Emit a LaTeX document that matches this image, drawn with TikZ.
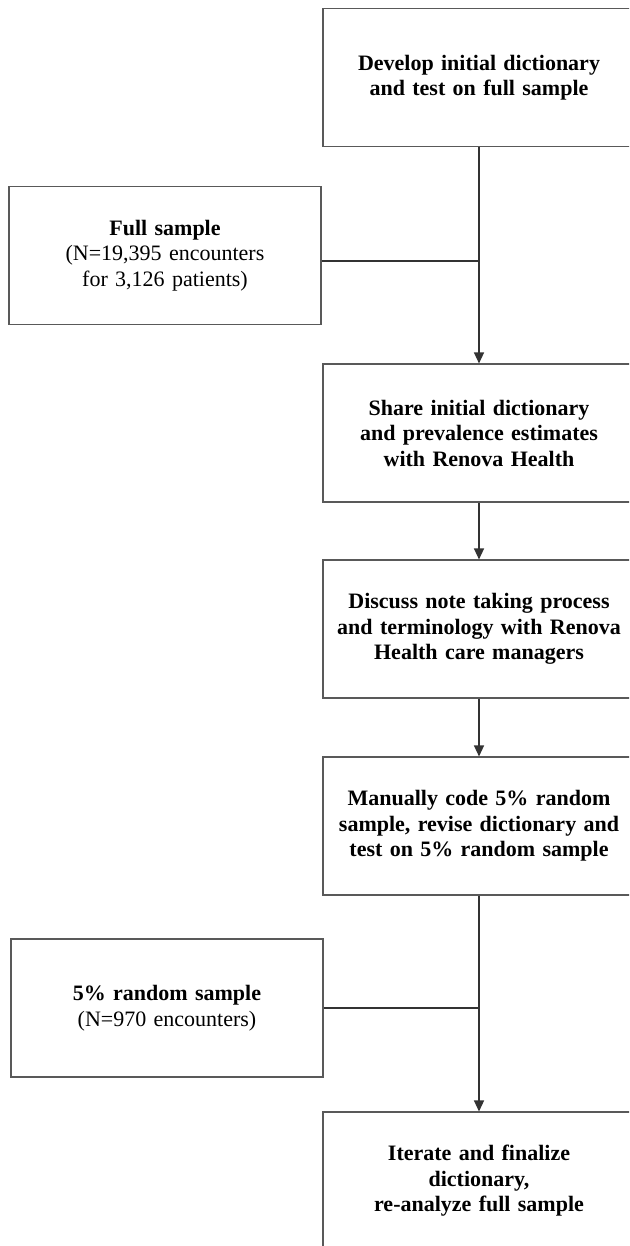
\documentclass[tikz,border=0pt]{standalone}
\usepackage{fontspec}
\setmainfont{Liberation Serif}
\usetikzlibrary{arrows.meta}

\begin{document}
\begin{tikzpicture}[x=1pt,y=1pt,>={Triangle[length=11pt,width=10pt]}]
	\path [use as bounding box,clip] (0,0) rectangle (629,-1246);
	\fill [white] (0,0) rectangle (629,-1246);

	\begin{scope}[every node/.style={rectangle,draw=black!65,line width=1.1pt,minimum width=312pt,minimum height=138pt,text width=300pt,align=center,inner sep=0pt,font=\fontsize{22}{25.5}\selectfont}]
		\node (D) at (479,-77.5) {\textbf{Develop initial dictionary\\and test on full sample}};
		\node (F) at (165,-255.5) {\textbf{Full sample}\\(N=19,395 encounters\\for 3,126 patients)};
		\node (S) at (479,-433) {\textbf{Share initial dictionary\\and prevalence estimates\\with Renova Health}};
		\node (T) at (479,-629) {\textbf{Discuss note taking process\\and terminology with Renova\\Health care managers}};
		\node (M) at (479,-826) {\textbf{Manually code 5\% random\\sample, revise dictionary and\\test on 5\% random sample}};
		\node (R) at (167,-1008) {\textbf{5\% random sample}\\(N=970 encounters)};
		\node (I) at (479,-1181) {\textbf{Iterate and finalize\\dictionary,\\re-analyze full sample}};
	\end{scope}

	\begin{scope}[every edge/.style={draw=black!80,line width=1.3pt}]
		\path [->] (D) edge (S);
		\path [->] (S) edge (T);
		\path [->] (T) edge (M);
		\path [->] (M) edge (I);
		\path ([yshift=-5.5pt]F.east) edge ([yshift=-5.5pt]F.east -| D.south);
		\path (R.east) edge (R.east -| M.south);
	\end{scope}
\end{tikzpicture}
\end{document}
